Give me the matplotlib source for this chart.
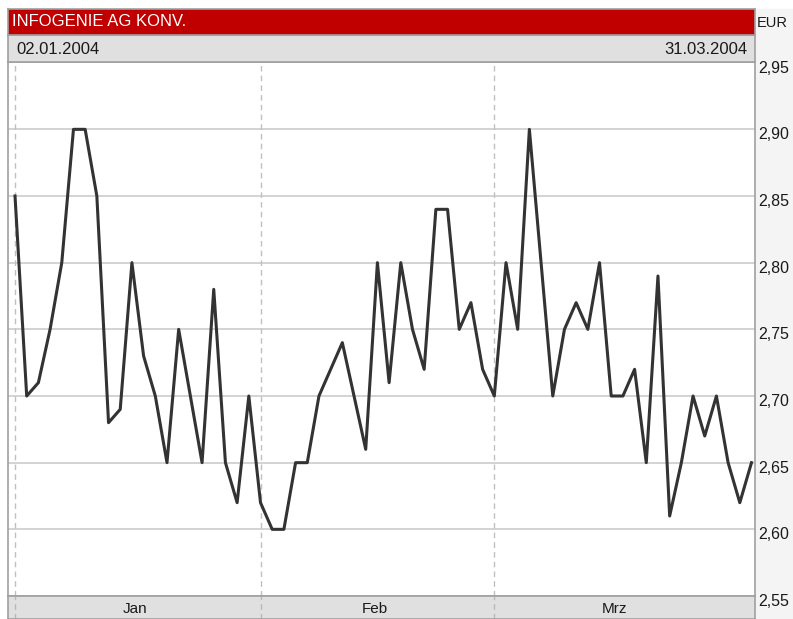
import matplotlib
matplotlib.use("Agg")
import matplotlib.pyplot as plt
import matplotlib.transforms as mtrans
import pandas as pd
from matplotlib.patches import Rectangle
from matplotlib.ticker import FuncFormatter

plt.rcParams['font.family'] = ['Liberation Sans', 'DejaVu Sans']

# data: daily closing prices (EUR), trading days 02.01.2004 - 31.03.2004
title = "INFOGENIE AG KONV."
start_label = "02.01.2004"
end_label = "31.03.2004"
currency = "EUR"
dates = pd.bdate_range("2004-01-02", "2004-03-31")
prices = [2.85, 2.70, 2.71, 2.75, 2.80, 2.90, 2.90, 2.85, 2.68, 2.69,
          2.80, 2.73, 2.70, 2.65, 2.75, 2.70, 2.65, 2.78, 2.65, 2.62,
          2.70, 2.62, 2.60, 2.60, 2.65, 2.65, 2.70, 2.72, 2.74, 2.70,
          2.66, 2.80, 2.71, 2.80, 2.75, 2.72, 2.84, 2.84, 2.75, 2.77,
          2.72, 2.70, 2.80, 2.75, 2.90, 2.80, 2.70, 2.75, 2.77, 2.75,
          2.80, 2.70, 2.70, 2.72, 2.65, 2.79, 2.61, 2.65, 2.70, 2.67,
          2.70, 2.65, 2.62, 2.65]
month_names = ["Jan", "Feb", "Mrz"]
y_ticks = [2.55, 2.60, 2.65, 2.70, 2.75, 2.80, 2.85, 2.90, 2.95]

W, H = 793, 619
fig = plt.figure(figsize=(W / 100, H / 100), dpi=100)


def box(x0, y0, x1, y1):
    # pixel box -> figure fraction rect
    return [x0 / W, 1 - y1 / H, (x1 - x0) / W, (y1 - y0) / H]


border = "#a0a0a0"
grid_c = "#c8c8c8"
band_c = "#e0e0e0"
red = "#c00000"
txt_c = "#1a1a1a"

# light grey column behind the price scale
fig.patches.append(Rectangle((755 / W, 0), (W - 755) / W, 1 - 9 / H,
                             transform=fig.transFigure, color="#f4f4f4", zorder=-5))

x = list(range(len(prices)))
month_starts = [i for i in x if i == 0 or dates[i].month != dates[i - 1].month]

# main plot
ax = fig.add_axes(box(8, 62, 755, 596))
ax.plot(x, prices, color="#333333", lw=2.2, zorder=3)
ax.set_xlim(-0.6, 63.3)
ax.set_ylim(2.55, 2.9505)
ax.set_yticks(y_ticks)
ax.yaxis.tick_right()
ax.yaxis.set_major_formatter(FuncFormatter(lambda v, p: f"{v:.2f}".replace(".", ",")))
ax.tick_params(axis="y", length=0, pad=2, labelsize=11.5, colors=txt_c)
ax.set_xticks([])
for v in y_ticks[1:-1]:
    ax.axhline(v, color=grid_c, lw=1.1, zorder=1)
for m in month_starts:
    ax.axvline(m, color="#c0c0c0", lw=1, ls=(0, (4, 3)), zorder=1)
for s in ax.spines.values():
    s.set_color(border)
    s.set_linewidth(1.2)

# tick labels sit slightly below their grid lines
offset = mtrans.ScaledTranslation(0, -3 / 72, fig.dpi_scale_trans)
for lbl in ax.get_yticklabels():
    lbl.set_transform(lbl.get_transform() + offset)

# bottom month band
bx = fig.add_axes(box(8, 596, 755, 619), sharex=ax)
bx.set_facecolor(band_c)
bx.set_ylim(0, 1)
bx.set_yticks([])
bx.tick_params(axis="x", length=0, labelbottom=False)
for m in month_starts:
    bx.axvline(m, color="#b8b8b8", lw=1, ls=(0, (4, 3)))
ends = month_starts[1:] + [62]
for name, s0, s1 in zip(month_names, month_starts, ends):
    bx.text((s0 + s1) / 2 - 0.25, 0.45, name, ha="center", va="center",
            fontsize=11, color=txt_c)
for s in bx.spines.values():
    s.set_color(border)
    s.set_linewidth(1.2)

# header: date band
hx = fig.add_axes(box(8, 35, 755, 62))
hx.set_facecolor(band_c)
hx.set_xticks([])
hx.set_yticks([])
hx.text(0.011, 0.45, start_label, ha="left", va="center", transform=hx.transAxes,
        fontsize=12, color=txt_c)
hx.text(0.990, 0.45, end_label, ha="right", va="center", transform=hx.transAxes,
        fontsize=12, color=txt_c)
for s in hx.spines.values():
    s.set_color(border)
    s.set_linewidth(1.2)

# header: title band
tx = fig.add_axes(box(8, 9, 755, 35))
tx.set_facecolor(red)
tx.set_xticks([])
tx.set_yticks([])
tx.text(0.006, 0.5, title, ha="left", va="center", transform=tx.transAxes,
        fontsize=12, color="white")
for s in tx.spines.values():
    s.set_color(border)
    s.set_linewidth(1.2)

fig.text(757 / W, 1 - 23 / H, currency, ha="left", va="center", fontsize=10.5, color=txt_c)

fig.savefig("out.png", dpi=100)
